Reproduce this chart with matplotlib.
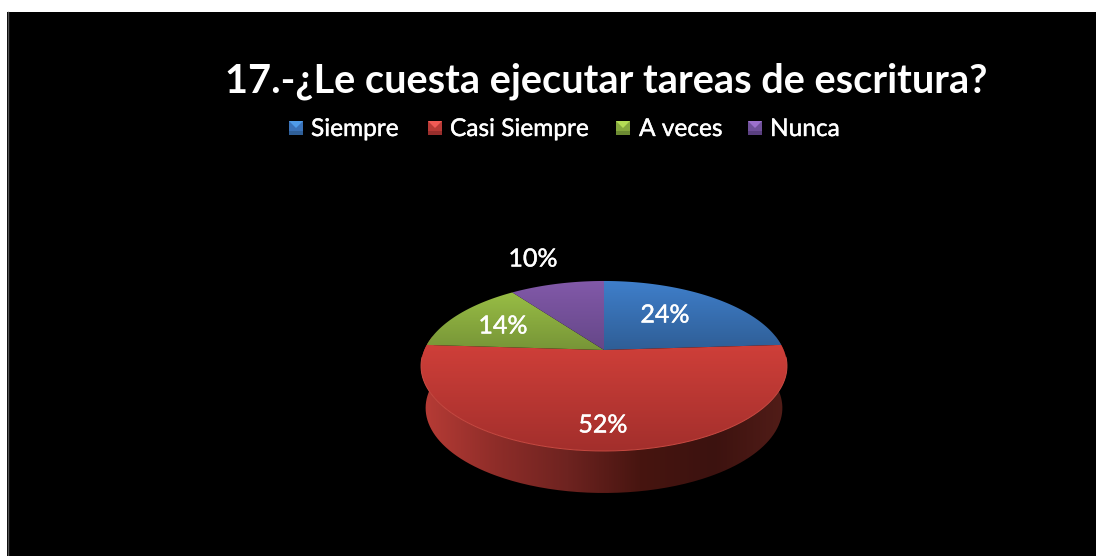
import numpy as np
import matplotlib
matplotlib.use("Agg")
import matplotlib.pyplot as plt
from matplotlib.colors import LinearSegmentedColormap
from matplotlib.patches import Rectangle, PathPatch, Polygon
from matplotlib.path import Path
import matplotlib.patheffects as pe

plt.rcParams['font.family'] = ['Lato', 'DejaVu Sans']

title = "17.-¿Le cuesta ejecutar tareas de escritura?"
categories = ["Siempre", "Casi Siempre", "A veces", "Nunca"]
values = [24, 52, 14, 10]

# light / dark end of each slice colour
tops = ["#3f7fcb", "#cf3f39", "#98bd45", "#8259a9"]
bottoms = ["#2f5e96", "#a32f2c", "#779537", "#654788"]

W, H = 1096, 556
fig = plt.figure(figsize=(W / 100, H / 100), dpi=100, facecolor="white")
ax = fig.add_axes([0, 0, 1, 1])
ax.axis("off")
ax.add_patch(Rectangle((7, 12), W - 7, H - 12, fc="black", ec="none"))
ax.plot([7.5, 7.5], [12, H], color="#555555", lw=1)

# perspective of the pie: apex at (cx, cy), the near side is bigger
cx, cy = 604, 350
bx, by, k = 179.7, 82, 0.188


def project(t, scale=1.0, drop=0):
    x = np.cos(t)
    y = np.sin(t)
    d = 1 + k * y
    return cx + scale * bx * x / d, cy - by * y / d + drop


def gradient(path, c0, c1, horizontal=False, stops=None, z=2):
    patch = PathPatch(path, fc="none", ec="none", zorder=z)
    ax.add_patch(patch)
    v = path.vertices
    cols = stops if stops else [c0, c1]
    cmap = LinearSegmentedColormap.from_list("g", cols)
    g = np.linspace(0, 1, 256)
    g = g[None, :] if horizontal else g[:, None]
    im = ax.imshow(g, cmap=cmap, aspect="auto", zorder=z, interpolation="bilinear",
                   extent=[v[:, 0].min(), v[:, 0].max(), v[:, 1].max(), v[:, 1].min()])
    im.set_clip_path(patch)


# side wall
tt = np.linspace(np.radians(170), np.radians(370), 300)
xt, yt = project(tt)
xb, yb = project(tt, 0.975, 42)
wall = Path(np.vstack([np.c_[xt, yt], np.c_[xb, yb][::-1]]))
gradient(wall, None, None, horizontal=True, z=1,
         stops=["#b83c36", "#8f2d29", "#6e2320", "#471510", "#3c120f", "#521d18"])

# top of the pie, clockwise from 12 o'clock
start = 90.0
for val, c0, c1 in zip(values, tops, bottoms):
    end = start - val * 3.6
    t = np.radians(np.linspace(start, end, 120))
    x, y = project(t)
    path = Path(np.vstack([[cx, cy], np.c_[x, y], [cx, cy]]))
    gradient(path, c0, c1, z=2)
    start = end

# light rim on the front edge
t = np.radians(np.linspace(185, 355, 200))
x, y = project(t)
ax.plot(x, y, color="#c94a42", lw=0.7, zorder=3)

heavier = [pe.withStroke(linewidth=0.3, foreground="white")]

# data labels
label_pos = [(665, 315), (603, 425), (503, 326), (533, 259)]
for val, (lx, ly) in zip(values, label_pos):
    ax.text(lx, ly, f"{val}%", color="white", fontsize=18, ha="center", va="center",
            zorder=5, path_effects=heavier)

ax.text(606, 81, title, color="white", fontsize=28.6, fontweight="bold",
        ha="center", va="center")

# legend with bevelled keys
key_x = [289, 428, 616, 748]
text_x = [311, 450, 639, 770]
key_light = ["#4f9be8", "#f05a55", "#b4dc55", "#9c70cc"]
key_mid = ["#3a72b8", "#b83a36", "#86a83e", "#70509a"]
key_dark = ["#2f5f98", "#982e2c", "#6c8a32", "#5a4080"]
for name, kx, tx, cl, cm, cd in zip(categories, key_x, text_x, key_light, key_mid, key_dark):
    y0, s = 121, 14
    ax.add_patch(Rectangle((kx, y0), s, s, fc=cm, ec="none"))
    ax.add_patch(Polygon([(kx, y0), (kx + s, y0), (kx + s / 2, y0 + s / 2)], fc=cl, ec="none"))
    ax.add_patch(Rectangle((kx, y0 + s - 4), s, 4, fc=cd, ec="none"))
    ax.text(tx, 129.5, name, color="white", fontsize=17.6, ha="left", va="center",
            path_effects=heavier)

ax.set_xlim(0, W)
ax.set_ylim(H, 0)
fig.savefig("out.png", dpi=100, facecolor="white")
